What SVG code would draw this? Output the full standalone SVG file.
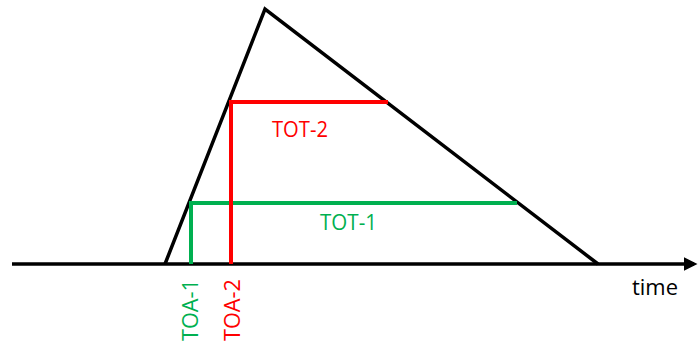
<svg xmlns="http://www.w3.org/2000/svg" width="699" height="342" viewBox="0 0 699 342">
<style>
.k{stroke:#000;stroke-width:3.5;fill:none;stroke-linejoin:miter}
.r{stroke:#ff0000;stroke-width:4;fill:none}
.g{stroke:#00b050;stroke-width:4;fill:none}
text{font-family:"Open Sans","Liberation Sans",sans-serif;font-size:22px}
.tr{fill:#ff0000}.tg{fill:#00b050}.tk{fill:#000}
</style>
<defs>
<marker id="ah" markerWidth="4" markerHeight="4" refX="3" refY="2" orient="auto" markerUnits="strokeWidth">
<path d="M0,0 L4,2 L0,4 z" fill="#000"/>
</marker>
</defs>
<g id="connectors">
<line class="k" x1="12" y1="264" x2="694" y2="264" marker-end="url(#ah)"/>
</g>
<g id="pulse">
<polyline class="k" points="165,264 265,9 598,264"/>
</g>
<g id="tot1">
<polyline class="g" points="191,264 191,203 517,203"/>
<text class="tg" x="320" y="230" textLength="57" lengthAdjust="spacingAndGlyphs">TOT-1</text>
</g>
<g id="tot2">
<polyline class="r" points="231,264 231,102 388,102"/>
<text class="tr" x="272" y="137" textLength="56" lengthAdjust="spacingAndGlyphs">TOT-2</text>
</g>
<g id="toa1">
<text class="tg" transform="translate(198,341) rotate(-90)" textLength="62" lengthAdjust="spacingAndGlyphs">TOA-1</text>
</g>
<g id="toa2">
<text class="tr" transform="translate(240,341) rotate(-90)" textLength="62" lengthAdjust="spacingAndGlyphs">TOA-2</text>
</g>
<g id="time">
<text class="tk" x="632" y="295" textLength="46" lengthAdjust="spacingAndGlyphs">time</text>
</g>
</svg>
